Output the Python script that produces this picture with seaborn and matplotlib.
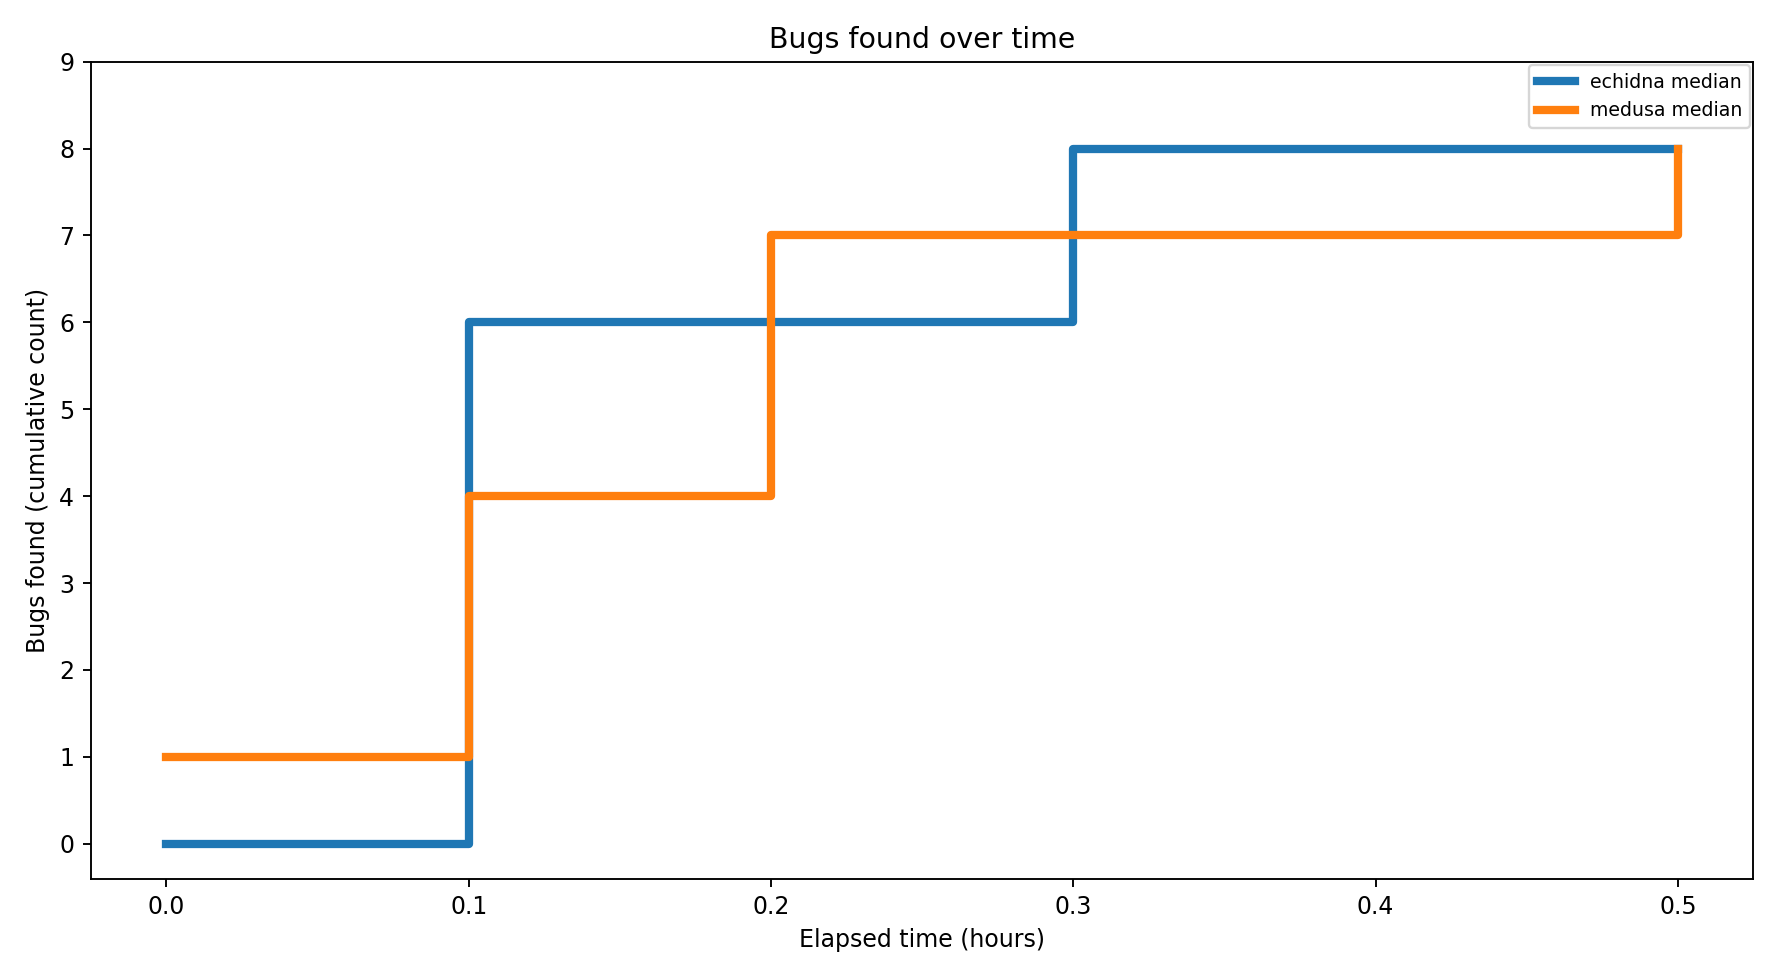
import matplotlib
matplotlib.use("Agg")
import matplotlib.pyplot as plt
import seaborn as sns
import pandas as pd

hours = [0.0, 0.1, 0.2, 0.3, 0.4, 0.5]
echidna = [0, 6, 6, 8, 8, 8]
medusa = [1, 4, 7, 7, 7, 8]

df = pd.DataFrame({
    "hours": hours * 2,
    "bugs": echidna + medusa,
    "tool": ["echidna median"] * len(hours) + ["medusa median"] * len(hours),
})

DPI = 170
fig, ax = plt.subplots(figsize=(1779 / DPI, 978 / DPI), dpi=DPI)
sns.lineplot(data=df, x="hours", y="bugs", hue="tool", drawstyle="steps-post",
             linewidth=3.5, palette=["#1f77b4", "#ff7f0e"], ax=ax)
ax.set_ylim(-0.4, 9)
ax.set_yticks(range(0, 10))
ax.set_xticks([0.0, 0.1, 0.2, 0.3, 0.4, 0.5])
ax.set_title("Bugs found over time", fontsize=12)
ax.set_xlabel("Elapsed time (hours)")
ax.set_ylabel("Bugs found (cumulative count)")
ax.legend(loc="upper right", fontsize=8, title=None, borderaxespad=0.2)
fig.tight_layout()
fig.savefig("out.png", dpi=DPI)
